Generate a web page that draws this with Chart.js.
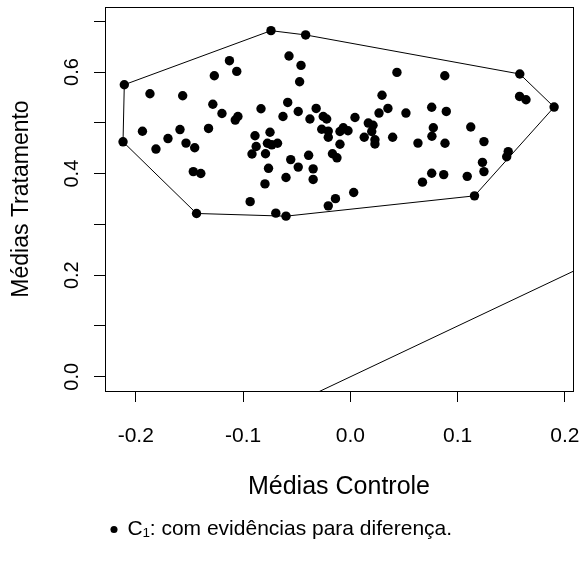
<!DOCTYPE html>
<html>
<head>
<meta charset="utf-8">
<script src="https://cdn.jsdelivr.net/npm/chart.js@4.4.0/dist/chart.umd.min.js"></script>
<style>
  html, body { margin: 0; padding: 0; background: #fff; }
  #wrap { width: 583px; height: 574px; }
</style>
</head>
<body>
<div id="wrap"><canvas id="myChart" width="583" height="574"></canvas></div>
<script>
// data
const mediasControle = [
  -0.0740, -0.0417, -0.2107, -0.2119, -0.1868, -0.1563, -0.1268, -0.1127, -0.1059, -0.0572,
  -0.0460, -0.0473, -0.1282, -0.1197, -0.1048, -0.1073, -0.0833, -0.0584, -0.0628, -0.0486,
  -0.0377, -0.0319, -0.0253, -0.0221, -0.0267, -0.0206, -0.0206, -0.1938, -0.1588, -0.1322,
  -0.1700, -0.1532, -0.1451, -0.1812, -0.0889, -0.0749, -0.0878, -0.0773, -0.0733, -0.0679,
  -0.0917, -0.0791, -0.0556, -0.0389, -0.0486, -0.0347, -0.0347, -0.0763, -0.0600, -0.0796,
  -0.0167, -0.0125, -0.0097, -0.0066, -0.0022, -0.0097, -0.1464, -0.1394, -0.0934, -0.1434,
  -0.0695, -0.0600, -0.0206, -0.0139, 0.1579, 0.1899, 0.1577, 0.1637, 0.0434, 0.0880,
  0.0295, 0.0350, 0.0267, 0.0518, 0.0758, 0.0894, 0.0043, 0.0167, 0.0211, 0.0199,
  0.0129, 0.0229, 0.0229, 0.0394, 0.0773, 0.0760, 0.1122, 0.0630, 0.0882, 0.1245,
  0.1471, 0.1457, 0.1231, 0.1245, 0.0758, 0.0672, 0.0870, 0.1089, 0.1157, 0.0031
];
const mediasTratamento = [
  0.6814, 0.6730, 0.5750, 0.4626, 0.5573, 0.5533, 0.5927, 0.6223, 0.6012, 0.6316,
  0.6130, 0.5809, 0.5366, 0.5184, 0.5125, 0.5054, 0.5277, 0.5401, 0.5125, 0.5222,
  0.5074, 0.5283, 0.5125, 0.5074, 0.4873, 0.4837, 0.4715, 0.4833, 0.4867, 0.4889,
  0.4690, 0.4601, 0.4508, 0.4483, 0.4745, 0.4814, 0.4534, 0.4597, 0.4567, 0.4597,
  0.4386, 0.4390, 0.4276, 0.4360, 0.4128, 0.4094, 0.3885, 0.4104, 0.3923, 0.3797,
  0.4390, 0.4311, 0.4829, 0.4902, 0.4843, 0.4577, 0.4039, 0.4002, 0.3448, 0.3215,
  0.3221, 0.3162, 0.3365, 0.3507, 0.5961, 0.5310, 0.5519, 0.5454, 0.5992, 0.5927,
  0.5543, 0.5283, 0.5192, 0.5192, 0.5306, 0.5224, 0.5105, 0.4995, 0.4952, 0.4829,
  0.4715, 0.4666, 0.4583, 0.4715, 0.4902, 0.4735, 0.4918, 0.4601, 0.4597, 0.4630,
  0.4433, 0.4331, 0.4222, 0.4039, 0.4006, 0.3832, 0.3980, 0.3946, 0.3562, 0.3627
];
// convex hull vertices (indexes into the arrays above), closed
const hullIdx = [0, 1, 64, 65, 98, 61, 59, 3, 2, 0];
// reference line y = x
const diagX = [-0.3, 0.3];
const xTicks = [-0.2, -0.1, 0.0, 0.1, 0.2];
const yTicks = [0.0, 0.1, 0.2, 0.3, 0.4, 0.5, 0.6, 0.7];
const legendLabel = 'C\u2081: com evid\u00eancias para diferen\u00e7a.';

Chart.defaults.font.family = '"Liberation Sans", Arial, sans-serif';
Chart.defaults.color = '#000';

const pts = mediasControle.map((x, i) => ({ x: x, y: mediasTratamento[i] }));
const hull = hullIdx.map(i => ({ x: mediasControle[i], y: mediasTratamento[i] }));
const diag = diagX.map(v => ({ x: v, y: v }));

// box around the plot region
const boxPlugin = {
  id: 'box',
  afterDraw(chart) {
    const a = chart.chartArea, c = chart.ctx;
    c.save();
    c.strokeStyle = '#000';
    c.lineWidth = 1;
    c.strokeRect(Math.round(a.left) + 0.5, Math.round(a.top) + 0.5,
      Math.round(a.right - a.left), Math.round(a.bottom - a.top));
    c.restore();
  }
};

const ctx = document.getElementById('myChart').getContext('2d');
const chart = new Chart(ctx, {
  type: 'scatter',
  data: {
    datasets: [
      {
        label: legendLabel,
        data: pts,
        pointRadius: 4.7,
        pointHoverRadius: 4.7,
        pointBorderWidth: 0,
        backgroundColor: '#000',
        borderColor: '#000',
      },
      {
        label: 'hull',
        data: hull,
        showLine: true,
        pointRadius: 0,
        borderColor: '#000',
        borderWidth: 1,
      },
      {
        label: 'y=x',
        data: diag,
        showLine: true,
        pointRadius: 0,
        borderColor: '#000',
        borderWidth: 1,
      },
    ],
  },
  options: {
    responsive: false,
    animation: false,
    events: [],
    layout: { padding: { top: 7, right: 10, left: 0, bottom: 24 } },
    plugins: {
      tooltip: { enabled: false },
      legend: {
        position: 'bottom',
        align: 'start',
        fullSize: false,
        labels: {
          usePointStyle: true,
          boxWidth: 6,
          boxHeight: 5,
          padding: 6,
          font: { size: 21 },
          filter: item => item.datasetIndex === 0,
        },
      },
    },
    scales: {
      x: {
        type: 'linear',
        min: -0.2287,
        max: 0.2075,
        afterBuildTicks: s => { s.ticks = xTicks.map(v => ({ value: v })); },
        afterFit: s => { s.height = 122; s.paddingLeft = 0; s.paddingRight = 0; },
        grid: { drawOnChartArea: false, tickLength: 11, tickColor: '#000' },
        border: { color: '#000' },
        ticks: {
          font: { size: 21 },
          padding: 22,
          maxRotation: 0,
          callback: v => v.toFixed(1),
        },
        title: { display: true, text: 'Médias Controle', font: { size: 25 }, padding: { top: 0, bottom: 11 } },
      },
      y: {
        type: 'linear',
        min: -0.028,
        max: 0.728,
        afterBuildTicks: s => { s.ticks = yTicks.map(v => ({ value: v })); },
        afterFit: s => { s.width = 105; s.paddingTop = 0; s.paddingBottom = 0; },
        grid: { drawOnChartArea: false, tickLength: 11, tickColor: '#000' },
        border: { color: '#000' },
        ticks: {
          font: { size: 20 },
          minRotation: 90,
          maxRotation: 90,
          crossAlign: 'center',
          padding: 8,
          callback: v => (Math.round(v * 10) % 2 === 0 ? v.toFixed(1) : ''),
        },
        title: { display: true, text: 'Médias Tratamento', font: { size: 23 }, padding: { top: 8, bottom: 0 } },
      },
    },
  },
  plugins: [boxPlugin],
});
</script>
</body>
</html>
